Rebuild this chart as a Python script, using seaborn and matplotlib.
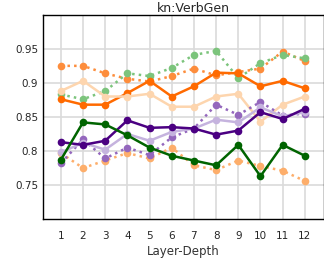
import matplotlib
matplotlib.use('Agg')
import matplotlib.pyplot as plt
import seaborn as sns

layers = list(range(1, 13))

orange_dot = [0.925, 0.925, 0.914, 0.906, 0.902, 0.910, 0.921, 0.911, 0.916, 0.921, 0.946, 0.932]
green_dot = [0.883, 0.876, 0.888, 0.914, 0.910, 0.922, 0.941, 0.947, 0.907, 0.929, 0.941, 0.936]
orange_solid = [0.876, 0.868, 0.868, 0.885, 0.903, 0.880, 0.895, 0.915, 0.914, 0.895, 0.903, 0.892]
peach_solid = [0.888, 0.903, 0.880, 0.880, 0.884, 0.865, 0.865, 0.880, 0.884, 0.843, 0.868, 0.880]
peach_dot = [0.797, 0.775, 0.786, 0.797, 0.789, 0.805, 0.779, 0.772, 0.786, 0.778, 0.771, 0.756]
purple_dot = [0.782, 0.817, 0.789, 0.805, 0.794, 0.820, 0.833, 0.868, 0.853, 0.872, 0.852, 0.855]
lilac_solid = [0.798, 0.812, 0.802, 0.825, 0.815, 0.828, 0.833, 0.846, 0.842, 0.864, 0.851, 0.857]
indigo_solid = [0.813, 0.809, 0.815, 0.845, 0.834, 0.835, 0.833, 0.824, 0.830, 0.857, 0.847, 0.862]
green_solid = [0.787, 0.842, 0.839, 0.823, 0.805, 0.793, 0.786, 0.779, 0.809, 0.763, 0.809, 0.793]

series = [
    (orange_dot, '#fd8d3c', ':'),
    (green_dot, '#7cc47c', ':'),
    (orange_solid, '#ff6a00', '-'),
    (peach_solid, '#fdd5ae', '-'),
    (peach_dot, '#fdae6b', ':'),
    (purple_dot, '#9467bd', ':'),
    (lilac_solid, '#c5b3de', '-'),
    (indigo_solid, '#4b0082', '-'),
    (green_solid, '#006400', '-'),
]

sns.set_style('white')
plt.rcParams['font.family'] = ['DejaVu Sans']

fig = plt.figure(figsize=(3.24, 2.59), dpi=100)
ax = fig.add_axes([0.133, 0.154, 0.866, 0.789])

for vals, color, ls in series:
    sns.lineplot(x=layers, y=vals, color=color, linestyle=ls, linewidth=1.8,
                 marker='o', markersize=5.5, markeredgewidth=0, ax=ax)

ax.set_xlim(0.2, 12.85)
ax.set_ylim(0.7, 1.0)
ax.set_xticks(layers)
ax.set_yticks([0.75, 0.8, 0.85, 0.9, 0.95])
ax.set_yticklabels(['0.75', '0.8', '0.85', '0.9', '0.95'])
ax.grid(True, color='#dadada', linewidth=1.2)
ax.set_axisbelow(True)
for sp in ax.spines.values():
    sp.set_color('black')
    sp.set_linewidth(1.0)
ax.tick_params(axis='x', length=4, color='#aaaaaa', labelsize=7.5, pad=4.5)
ax.tick_params(axis='y', length=2, color='#aaaaaa', labelsize=7.5, pad=1.5)
ax.set_xlabel('Layer-Depth', fontsize=8.5, color='#333333', labelpad=3)
ax.set_ylabel('')
ax.set_title('kn:VerbGen', fontsize=9, pad=2, x=0.535)

fig.savefig('out.png', dpi=100)
